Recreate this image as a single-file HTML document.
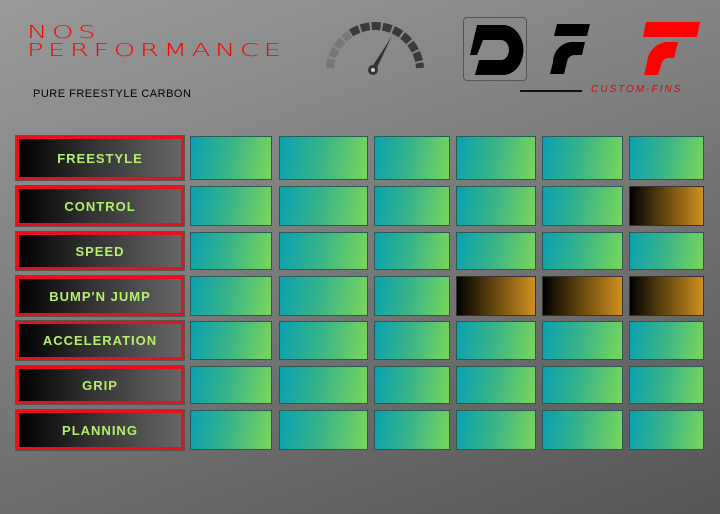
<!DOCTYPE html>
<html><head><style>
html,body{margin:0;padding:0}
body{width:720px;height:514px;position:relative;overflow:hidden;background:linear-gradient(160deg,#9a9a9a 0%,#7c7c7c 45%,#555 100%);font-family:"Liberation Sans",sans-serif}
.t{position:absolute;color:#f00;font-family:"DejaVu Sans",sans-serif;font-weight:200;letter-spacing:3px;font-size:18px;line-height:18px;transform-origin:0 0;transform:scaleX(1.52)}
.lab{position:absolute;left:16px;width:162px;border:3px solid #e8101a;background:linear-gradient(90deg,#000 0%,#333 45%,#666 100%);color:#b5ef6e;font-weight:bold;font-size:13px;letter-spacing:1px;display:flex;align-items:center;justify-content:center;box-shadow:0 0 0 1px #555}
.c{position:absolute;border:1px solid #2a5a55;background:linear-gradient(100deg,#0aa0b0 0%,#36b38a 45%,#7ad65a 100%);box-sizing:border-box}
.g{background:linear-gradient(90deg,#000 0%,#6a4a10 50%,#d0901e 100%);border-color:#333}
</style></head><body>
<div class="t" style="left:27px;top:24px">NOS</div>
<div class="t" style="left:27px;top:42px">PERFORMANCE</div>
<div style="position:absolute;left:33px;top:88px;font-size:11px;letter-spacing:0.5px;color:#000">PURE FREESTYLE CARBON</div>
<svg style="position:absolute;left:320px;top:20px" width="110" height="60" viewBox="0 0 110 60">
<path d="M10 48 A45 45 0 0 1 30 14" stroke="#777" stroke-width="8" fill="none" stroke-dasharray="9 2"/>
<path d="M31 13 A45 45 0 0 1 100 48" stroke="#3a3a3a" stroke-width="8" fill="none" stroke-dasharray="9 2"/>
<path d="M50 50 L72 16 L55 52Z" fill="#333"/>
<circle cx="53" cy="50" r="5" fill="#333"/><circle cx="53" cy="50" r="2" fill="#ccc"/>
</svg>
<div style="position:absolute;left:463px;top:17px;width:62px;height:62px;border:1px solid #555;border-radius:4px;background:#888"></div>
<svg style="position:absolute;left:465px;top:20px" width="60" height="60" viewBox="0 0 60 60">
<path d="M12 5 H38 A18 22 0 0 1 38 55 H10 L14 40 H36 A8 10 0 0 0 36 20 H18 L12 35 H5Z" fill="#000"/>
</svg>
<svg style="position:absolute;left:545px;top:22px" width="60" height="55" viewBox="0 0 60 55">
<path d="M12 2 H45 L42 14 H9Z M30 20 H40 L37 33 H30 A8 8 0 0 0 22 40 L19 52 H5 L8 40 A20 20 0 0 1 30 20Z" fill="#000"/>
</svg>
<svg style="position:absolute;left:636px;top:20px" width="70" height="58" viewBox="0 0 70 58">
<path d="M10 2 H64 L61 17 H7Z M30 22 H42 L38 38 H33 A8 8 0 0 0 25 45 L22 55 H8 L11 43 A22 22 0 0 1 30 22Z" fill="#f00"/>
</svg>
<div style="position:absolute;left:520px;top:90px;width:62px;height:2px;background:#111"></div>
<div style="position:absolute;left:591px;top:84px;color:#e00;font-size:10px;font-style:italic;letter-spacing:2px">CUSTOM-FINS</div>
<div id="g"></div>
<script>
var rows=[[136,180,"FREESTYLE"],[186,226,"CONTROL"],[232,270,"SPEED"],[276,316,"BUMP'N JUMP"],[321,360,"ACCELERATION"],[366,404,"GRIP"],[410,450,"PLANNING"]];
var cols=[[190,272],[279,368],[374,450],[456,536],[542,623],[629,704]];
var gold={"1-5":1,"3-3":1,"3-4":1,"3-5":1};
var h="";
rows.forEach(function(r,i){
h+='<div class="lab" style="top:'+r[0]+'px;height:'+(r[1]-r[0]-6)+'px">'+r[2]+'</div>';
cols.forEach(function(c,j){
h+='<div class="c'+(gold[i+"-"+j]?' g':'')+'" style="left:'+c[0]+'px;top:'+r[0]+'px;width:'+(c[1]-c[0])+'px;height:'+(r[1]-r[0])+'px"></div>';
});});
document.getElementById("g").innerHTML=h;
</script>
</body></html>
